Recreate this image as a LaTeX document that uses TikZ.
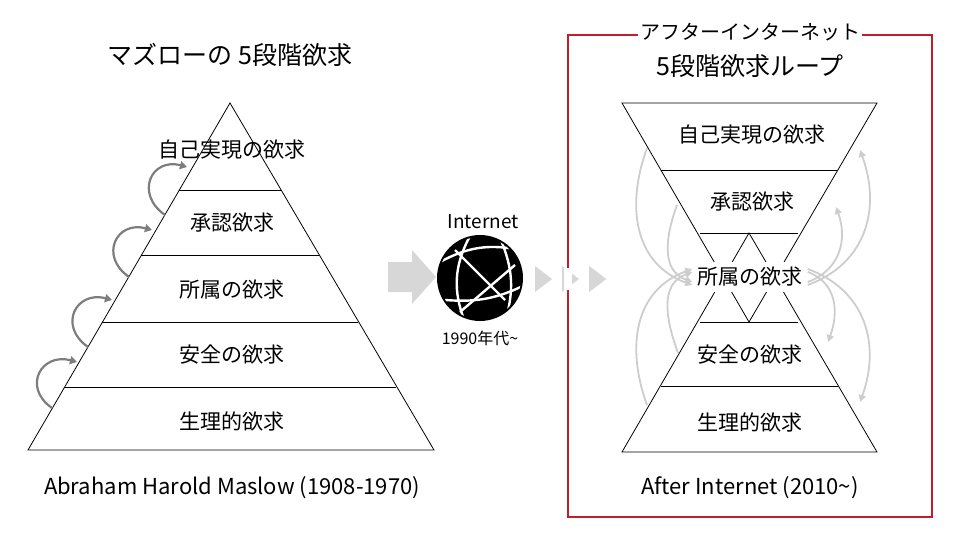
\documentclass[tikz,border=0pt]{standalone}
\usepackage{fontspec}
\setmainfont{Noto Sans CJK JP}
\usetikzlibrary{arrows.meta}
\definecolor{boxred}{RGB}{192,30,40}
\definecolor{arcgray}{RGB}{205,205,205}
\definecolor{stepgray}{RGB}{125,125,125}
\definecolor{fatgray}{RGB}{215,215,215}
\tikzset{
	layer/.style={font=\fontsize{21}{24}\selectfont},
	caption/.style={font=\fontsize{22}{26}\selectfont},
	uparc/.style={draw=stepgray, line width=2.2pt, -{Triangle[length=7pt,width=8pt]}},
	looparc/.style={draw=arcgray, line width=1.8pt, -{Triangle[length=7pt,width=7pt]}},
}
\begin{document}
\begin{tikzpicture}[x=1pt,y=-1pt]
	\useasboundingbox (0,0) rectangle (960,540);

	% left pyramid
	\draw[thick] (230,103) -- (434,450) -- (28,450) -- cycle;
	\foreach \yy in {190,255,322,387}
		\draw[thick] ({230-(\yy-103)*0.5850},\yy) -- ({230+(\yy-103)*0.5850},\yy);
	\node [font=\fontsize{25}{28}\selectfont] (ltitle) at (230,55) {マズローの 5段階欲求};
	\node [layer] (l5) at (232,150) {自己実現の欲求};
	\node [layer] (l4) at (232,223) {承認欲求};
	\node [layer] (l3) at (232,290) {所属の欲求};
	\node [layer] (l2) at (232,355) {安全の欲求};
	\node [layer] (l1) at (232,421) {生理的欲求};
	\node [caption] (lcap) at (232,488) {Abraham Harold Maslow (1908-1970)};

	\coordinate (s1) at (52,408);  \coordinate (e1) at (77,362);
	\coordinate (s2) at (88,347);  \coordinate (e2) at (112,300);
	\coordinate (s3) at (129,277); \coordinate (e3) at (152,230);
	\coordinate (s4) at (165,215); \coordinate (e4) at (187,167);
	\foreach \i in {1,2,3,4}
		\draw[uparc] (s\i) to[out=145, in=165, looseness=1.8] (e\i);

	% internet
	\fill[fatgray] (388,262) -- (412,262) -- (412,250) -- (436,277) -- (412,304) -- (412,292) -- (388,292) -- cycle;
	\node [font=\fontsize{19}{22}\selectfont] (net) at (483,222) {Internet};
	\fill (480,278) circle (43);
	\begin{scope}
		\clip (480,278) circle (41);
		\draw[white, line width=2.4pt] (440,262) to[bend left=20] (520,250);
		\draw[white, line width=2.4pt] (445,300) to[bend right=15] (525,285);
		\draw[white, line width=2.4pt] (470,236) to[bend right=25] (465,322);
		\draw[white, line width=2.4pt] (500,238) to[bend left=20] (505,322);
		\draw[white, line width=2.4pt] (455,250) -- (505,300);
		\draw[white, line width=2.4pt] (460,312) -- (515,265);
	\end{scope}
	\node [font=\fontsize{16}{19}\selectfont] (era) at (480,338) {1990年代\textasciitilde};
	\foreach \xx in {535,562,589}
		\fill[fatgray] (\xx,266) -- (\xx+17,279) -- (\xx,292) -- cycle;

	% after internet
	\draw[boxred, line width=2pt] (568,35) rectangle (932,517);
	\fill[white] (572,268) rectangle (564,290);
	\fill[fatgray] (589,266) -- (606,279) -- (589,292) -- cycle;
	\node [fill=white, font=\fontsize{20}{23}\selectfont, inner sep=2pt] (rsub) at (750,32) {アフターインターネット};
	\node [font=\fontsize{25}{28}\selectfont] (rtitle) at (750,66) {5段階欲求ループ};

	\draw[thick] (622,103) -- (877,103) -- (749,322) -- cycle;
	\draw[thick] (749,233) -- (877,452) -- (622,452) -- cycle;
	\draw[thick] (661,170) -- (838,170);
	\draw[thick] (700,233) -- (798,233);
	\draw[thick] (700,322) -- (798,322);
	\draw[thick] (661,386) -- (838,386);

	\node [layer] (r5) at (752,135) {自己実現の欲求};
	\node [layer] (r4) at (752,202) {承認欲求};
	\node [layer, fill=white, inner sep=5pt] (r3) at (750,277) {所属の欲求};
	\node [layer] (r2) at (750,355) {安全の欲求};
	\node [layer] (r1) at (750,422) {生理的欲求};
	\node [caption] (rcap) at (750,488) {After Internet (2010\textasciitilde)};

	\draw[looparc] (647,148) to[out=250, in=160, looseness=1.1] ([yshift=-8]r3.west);
	\draw[looparc] (677,205) to[out=250, in=160, looseness=1.1] ([yshift=-5]r3.west);
	\draw[looparc] (678,353) to[out=110, in=200, looseness=1.1] ([yshift=5]r3.west);
	\draw[looparc] (647,405) to[out=110, in=200, looseness=1.1] ([yshift=8]r3.west);
	\draw[looparc] ([yshift=-8]r3.east) to[out=20, in=290, looseness=1.1] (860,150);
	\draw[looparc] ([yshift=-5]r3.east) to[out=20, in=290, looseness=1.1] (836,207);
	\draw[looparc] ([yshift=5]r3.east) to[out=-20, in=70, looseness=1.1] (828,342);
	\draw[looparc] ([yshift=8]r3.east) to[out=-20, in=70, looseness=1.1] (860,402);
\end{tikzpicture}
\end{document}
